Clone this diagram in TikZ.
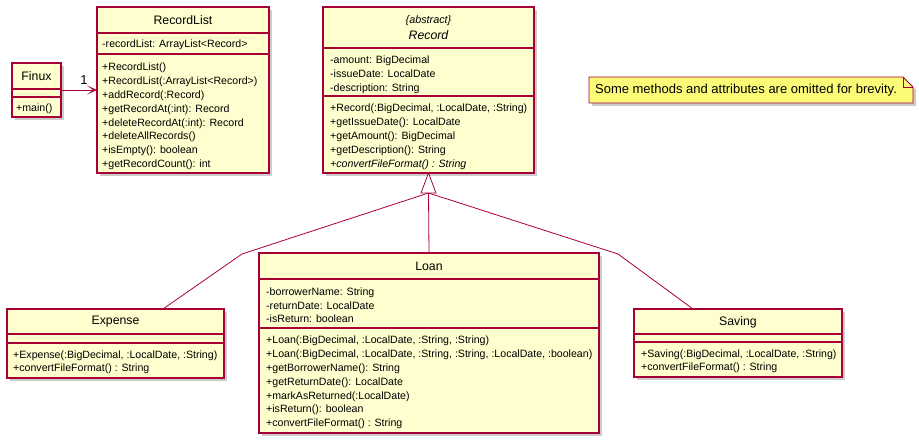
\documentclass[tikz,border=0pt]{standalone}
\usepackage{fontspec}
\setmainfont{Liberation Sans}
\usetikzlibrary{arrows.meta,shadows}
\definecolor{umlborder}{HTML}{A80036}
\definecolor{umlfill}{HTML}{FEFECE}
\definecolor{notefill}{HTML}{FBFB77}
\tikzset{
  cls/.style={draw=umlborder, fill=umlfill, line width=1.2pt, rectangle, anchor=north west, inner sep=0pt, outer sep=0pt,
    drop shadow={shadow xshift=3pt, shadow yshift=-3pt, fill=black!40, opacity=0.5}},
  sepline/.style={draw=umlborder, line width=1.1pt},
  title/.style={font=\fontsize{12.3}{14}\selectfont, inner sep=0pt, anchor=center},
  member/.style={font=\fontsize{10.6}{13}\selectfont, inner sep=0pt, anchor=base west},
  link/.style={draw=umlborder, line width=0.8pt},
  notetxt/.style={font=\fontsize{13}{15}\selectfont, inner sep=0pt, anchor=center}
}
\begin{document}
\begin{tikzpicture}[x=1pt,y=-1pt]
\useasboundingbox (0,0) rectangle (919,446);

% Finux
\node[cls, minimum width=49pt, minimum height=54pt] (finux) at (12,63) {};
\draw[sepline] (12,89) -- (61,89);
\draw[sepline] (12,97) -- (61,97);
\node[title] (finuxt) at (36.5,76) {Finux};
\node[member] (finuxm) at (16,112) {+main()};

% RecordList
\node[cls, minimum width=172pt, minimum height=166pt] (rl) at (97,7) {};
\draw[sepline] (97,33) -- (269,33);
\draw[sepline] (97,54) -- (269,54);
\node[title] (rlt) at (183,20.5) {RecordList};
\node[member] (rla) at (102,48) {-recordList: ArrayList<Record>};
\foreach \t [count=\i] in {{+RecordList()},{+RecordList(:ArrayList<Record>)},{+addRecord(:Record)},{+getRecordAt(:int): Record},{+deleteRecordAt(:int): Record},{+deleteAllRecords()},{+isEmpty(): boolean},{+getRecordCount(): int}}
  \node[member] (rlm\i) at (102,{71+13.8*(\i-1)}) {\t};

% Record
\node[cls, minimum width=211pt, minimum height=166pt] (rec) at (323,7) {};
\draw[sepline] (323,48) -- (534,48);
\draw[sepline] (323,96) -- (534,96);
\node[title, font=\fontsize{10.8}{13}\selectfont\itshape] (recs) at (428.5,21) {\{abstract\}};
\node[title, font=\fontsize{12.3}{14}\selectfont\itshape] (rect) at (428.5,35) {Record};
\foreach \t [count=\i] in {{-amount: BigDecimal},{-issueDate: LocalDate},{-description: String}}
  \node[member] (reca\i) at (330,{64+13.7*(\i-1)}) {\t};
\foreach \t [count=\i] in {{+Record(:BigDecimal, :LocalDate, :String)},{+getIssueDate(): LocalDate},{+getAmount(): BigDecimal},{+getDescription(): String}}
  \node[member] (recm\i) at (330,{112+13.8*(\i-1)}) {\t};
\node[member, font=\fontsize{10.6}{13}\selectfont\itshape] (recm5) at (330,167.2) {+convertFileFormat() : String};

% Note
\path[draw=umlborder, fill=notefill, line width=0.8pt,
  drop shadow={shadow xshift=3pt, shadow yshift=-3pt, fill=black!40, opacity=0.5}]
  (589,77) -- (903,77) -- (913,87) -- (913,103) -- (589,103) -- cycle;
\draw[draw=umlborder, line width=0.8pt] (903,77) -- (903,87) -- (913,87);
\node[notetxt] (note) at (746,90.5) {Some methods and attributes are omitted for brevity.};

% Expense
\node[cls, minimum width=217pt, minimum height=69pt] (exp) at (7,309) {};
\draw[sepline] (7,334) -- (224,334);
\draw[sepline] (7,343) -- (224,343);
\node[title] (expt) at (115.5,322) {Expense};
\node[member] (expm1) at (13,359) {+Expense(:BigDecimal, :LocalDate, :String)};
\node[member] (expm2) at (13,372) {+convertFileFormat() : String};

% Loan
\node[cls, minimum width=340pt, minimum height=180pt] (loan) at (259,253) {};
\draw[sepline] (259,279) -- (599,279);
\draw[sepline] (259,328) -- (599,328);
\node[title] (loant) at (429,266) {Loan};
\foreach \t [count=\i] in {{-borrowerName: String},{-returnDate: LocalDate},{-isReturn: boolean}}
  \node[member] (loana\i) at (266,{296+13.4*(\i-1)}) {\t};
\foreach \t [count=\i] in {{+Loan(:BigDecimal, :LocalDate, :String, :String)},{+Loan(:BigDecimal, :LocalDate, :String, :String, :LocalDate, :boolean)},{+getBorrowerName(): String},{+getReturnDate(): LocalDate},{+markAsReturned(:LocalDate)},{+isReturn(): boolean},{+convertFileFormat() : String}}
  \node[member] (loanm\i) at (266,{344+13.8*(\i-1)}) {\t};

% Saving
\node[cls, minimum width=208pt, minimum height=68pt] (sav) at (634,309) {};
\draw[sepline] (634,334) -- (842,334);
\draw[sepline] (634,342) -- (842,342);
\node[title] (savt) at (738,322) {Saving};
\node[member] (savm1) at (641,358) {+Saving(:BigDecimal, :LocalDate, :String)};
\node[member] (savm2) at (641,371) {+convertFileFormat() : String};

% Association Finux -> RecordList
\draw[link, -{Stealth[length=10pt, width=9pt, inset=6pt]}] (finux.east) -- (rl.west);
\node[font=\fontsize{13}{15}\selectfont, inner sep=0pt] (mult) at (84,80) {1};

% Generalization
\coordinate (tb) at (428.5,193);
\coordinate (eb) at (242,254);
\coordinate (et) at (163,309);
\coordinate (sb) at (618,254);
\coordinate (st) at (693,309);
\draw[link] (et) -- (eb) -- (tb);
\draw[link] (st) -- (sb) -- (tb);
\draw[link] (loan.north) -- (tb);
\draw[link, fill=white] (rec.south) -- (436,193) -- (421,193) -- cycle;
\end{tikzpicture}
\end{document}
